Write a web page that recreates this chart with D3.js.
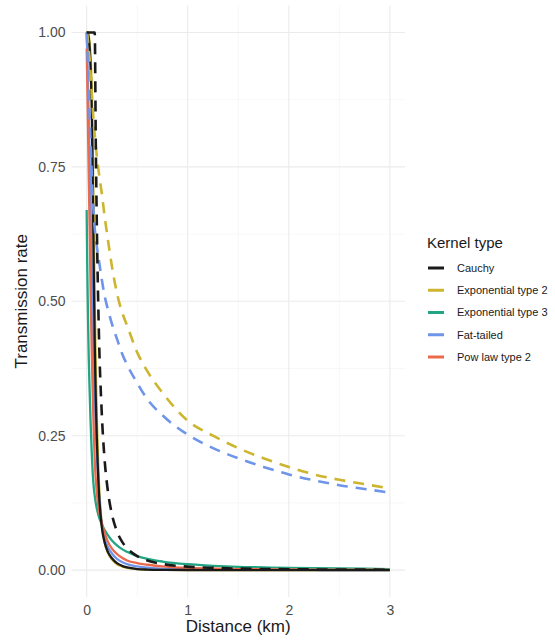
<!DOCTYPE html>
<html>
<head>
<meta charset="utf-8">
<script src="https://cdn.jsdelivr.net/npm/d3@7"></script>
<style>
  html, body { margin: 0; padding: 0; background: #ffffff; }
  svg { display: block; font-family: "Liberation Sans", Arial, Helvetica, sans-serif; }
</style>
</head>
<body>
<svg id="chart" width="555" height="641"></svg>
<script>
// Distance grid (km) shared by every kernel curve
const distance = [0, 0.005, 0.01, 0.015, 0.02, 0.03, 0.04, 0.05, 0.06, 0.07, 0.08, 0.09, 0.1,
  0.12, 0.15, 0.18, 0.21, 0.25, 0.3, 0.35, 0.4, 0.5, 0.6, 0.75, 1, 1.25, 1.5, 1.75, 2, 2.25, 2.5, 2.75, 3];

// Solid curves (fitted kernels)
const cauchySolid = [1, 1, 1, 0.995, 0.99, 0.97, 0.93, 0.86, 0.73, 0.56, 0.42, 0.32, 0.25,
  0.15, 0.08, 0.05, 0.034, 0.022, 0.013, 0.008, 0.005, 0.002, 0.001, 0.0005, 0.0002, 0.0001, 0, 0, 0, 0, 0, 0, 0];
const exp2Solid = [1, 1, 1, 1, 0.995, 0.98, 0.95, 0.9, 0.8, 0.65, 0.5, 0.38, 0.29,
  0.17, 0.085, 0.05, 0.032, 0.02, 0.011, 0.007, 0.004, 0.002, 0.001, 0.0005, 0.0002, 0.0001, 0, 0, 0, 0, 0, 0, 0];
const exp3Solid = [0.67, 0.58, 0.51, 0.45, 0.4, 0.33, 0.27, 0.22, 0.18, 0.155, 0.138, 0.125, 0.115,
  0.1, 0.085, 0.074, 0.065, 0.055, 0.046, 0.039, 0.034, 0.026, 0.021, 0.016, 0.011, 0.008, 0.006, 0.005, 0.004, 0.0035, 0.003, 0.0025, 0.002];
const fatSolid = [1, 0.97, 0.93, 0.89, 0.85, 0.76, 0.66, 0.55, 0.45, 0.37, 0.31, 0.26, 0.22,
  0.15, 0.085, 0.058, 0.043, 0.031, 0.021, 0.015, 0.011, 0.007, 0.0045, 0.0027, 0.0014, 0.0009, 0.0006, 0.0005, 0.0004, 0.0003, 0.0002, 0.0002, 0.0001];
const powSolid = [0.97, 0.92, 0.86, 0.8, 0.74, 0.63, 0.51, 0.41, 0.33, 0.26, 0.205, 0.17, 0.145,
  0.113, 0.088, 0.068, 0.053, 0.04, 0.03, 0.023, 0.018, 0.013, 0.01, 0.007, 0.004, 0.003, 0.002, 0.0016, 0.0012, 0.001, 0.0008, 0.0007, 0.0006];

// Dashed curves (alternative parameterisation)
const cauchyDashed = [1, 1, 1, 1, 1, 1, 1, 1, 1, 1, 1, 0.8, 0.65,
  0.45, 0.29, 0.2, 0.147, 0.104, 0.072, 0.053, 0.041, 0.026, 0.018, 0.0115, 0.0065, 0.0042, 0.0029, 0.0021, 0.0016, 0.0013, 0.001, 0.0009, 0.0007];
const exp2Dashed = [1, 1, 0.99, 0.98, 0.97, 0.95, 0.92, 0.89, 0.86, 0.83, 0.81, 0.79, 0.77,
  0.74, 0.7, 0.655, 0.615, 0.565, 0.515, 0.48, 0.455, 0.405, 0.37, 0.33, 0.278, 0.25, 0.227, 0.208, 0.192, 0.178, 0.168, 0.16, 0.152];
const fatDashed = [1, 0.98, 0.95, 0.92, 0.89, 0.84, 0.79, 0.74, 0.695, 0.66, 0.635, 0.618, 0.603,
  0.578, 0.54, 0.508, 0.485, 0.458, 0.43, 0.403, 0.382, 0.348, 0.318, 0.288, 0.252, 0.227, 0.208, 0.192, 0.178, 0.167, 0.158, 0.151, 0.144];

// Legend categories and colours
const kernelTypes = ["Cauchy", "Exponential type 2", "Exponential type 3", "Fat-tailed", "Pow law type 2"];
const kernelColors = ["#1a1a1a", "#CDB52F", "#21A582", "#6F95EA", "#EC6A4C"];

// Axis ticks
const xTicks = [0, 1, 2, 3];
const xMinor = [0.5, 1.5, 2.5];
const yTicks = [0, 0.25, 0.5, 0.75, 1];
const yMinor = [0.125, 0.375, 0.625, 0.875];

const color = d3.scaleOrdinal().domain(kernelTypes).range(kernelColors);

// Layers in drawing order
const layers = [
  { kernel: "Exponential type 2", values: exp2Solid, dashed: false },
  { kernel: "Fat-tailed", values: fatSolid, dashed: false },
  { kernel: "Exponential type 3", values: exp3Solid, dashed: false },
  { kernel: "Pow law type 2", values: powSolid, dashed: false },
  { kernel: "Cauchy", values: cauchySolid, dashed: false },
  { kernel: "Exponential type 2", values: exp2Dashed, dashed: true },
  { kernel: "Fat-tailed", values: fatDashed, dashed: true },
  { kernel: "Cauchy", values: cauchyDashed, dashed: true }
];

const svg = d3.select("#chart");
const panel = { left: 71.5, right: 405, top: 5.6, bottom: 597 };

const x = d3.scaleLinear().domain([-0.15, 3.15]).range([panel.left, panel.right]);
const y = d3.scaleLinear().domain([-0.05, 1.05]).range([panel.bottom, panel.top]);

svg.append("rect").attr("width", 555).attr("height", 641).attr("fill", "#ffffff");

// Grid
const grid = svg.append("g");
grid.selectAll(".xminor").data(xMinor).join("line")
  .attr("x1", d => x(d)).attr("x2", d => x(d))
  .attr("y1", panel.top).attr("y2", panel.bottom)
  .attr("stroke", "#f2f2f2").attr("stroke-width", 0.6);
grid.selectAll(".yminor").data(yMinor).join("line")
  .attr("y1", d => y(d)).attr("y2", d => y(d))
  .attr("x1", panel.left).attr("x2", panel.right)
  .attr("stroke", "#f2f2f2").attr("stroke-width", 0.6);
grid.selectAll(".xmajor").data(xTicks).join("line")
  .attr("x1", d => x(d)).attr("x2", d => x(d))
  .attr("y1", panel.top).attr("y2", panel.bottom)
  .attr("stroke", "#ebebeb").attr("stroke-width", 1.1);
grid.selectAll(".ymajor").data(yTicks).join("line")
  .attr("y1", d => y(d)).attr("y2", d => y(d))
  .attr("x1", panel.left).attr("x2", panel.right)
  .attr("stroke", "#ebebeb").attr("stroke-width", 1.1);

// Axes (labels only, no domain line or ticks)
const xAxis = svg.append("g")
  .attr("transform", `translate(0,${panel.bottom})`)
  .call(d3.axisBottom(x).tickValues(xTicks).tickFormat(d3.format("d")).tickSize(0).tickPadding(8));
const yAxis = svg.append("g")
  .attr("transform", `translate(${panel.left},0)`)
  .call(d3.axisLeft(y).tickValues(yTicks).tickFormat(d3.format(".2f")).tickSize(0).tickPadding(6));
[xAxis, yAxis].forEach(g => {
  g.select(".domain").remove();
  g.selectAll("text").attr("fill", "#4d4d4d").style("font-size", "14px")
    .style("font-family", "'Liberation Sans', Arial, sans-serif");
});

// Curves
const line = d3.line()
  .x(d => x(d[0]))
  .y(d => y(d[1]))
  .curve(d3.curveMonotoneX);

svg.append("g").selectAll("path").data(layers).join("path")
  .attr("d", l => line(distance.map((dv, i) => [dv, l.values[i]])))
  .attr("fill", "none")
  .attr("stroke", l => color(l.kernel))
  .attr("stroke-width", l => l.dashed ? 2.6 : 2.3)
  .attr("stroke-dasharray", l => l.dashed ? "11,8" : null)
  .attr("stroke-linejoin", "round");

// Axis titles
svg.append("text")
  .attr("x", (panel.left + panel.right) / 2).attr("y", 632)
  .attr("text-anchor", "middle").attr("fill", "#1a1a1a")
  .style("font-size", "17px").text("Distance (km)");
svg.append("text")
  .attr("transform", `translate(27,${(panel.top + panel.bottom) / 2}) rotate(-90)`)
  .attr("text-anchor", "middle").attr("fill", "#1a1a1a")
  .style("font-size", "17px").text("Transmission rate");

// Legend
const legend = svg.append("g").attr("transform", "translate(420,0)");
legend.append("text").attr("x", 7).attr("y", 248)
  .attr("fill", "#1a1a1a").style("font-size", "15px").text("Kernel type");
const rowY = d3.scalePoint().domain(kernelTypes).range([268, 357]);
const items = legend.selectAll("g.item").data(kernelTypes).join("g")
  .attr("transform", d => `translate(0,${rowY(d)})`);
items.append("line").attr("x1", 8).attr("x2", 24).attr("y1", 0).attr("y2", 0)
  .attr("stroke", d => color(d)).attr("stroke-width", 3);
items.append("text").attr("x", 37).attr("y", 0).attr("dy", "0.35em")
  .attr("fill", "#1a1a1a").style("font-size", "11px").text(d => d);
</script>
</body>
</html>
